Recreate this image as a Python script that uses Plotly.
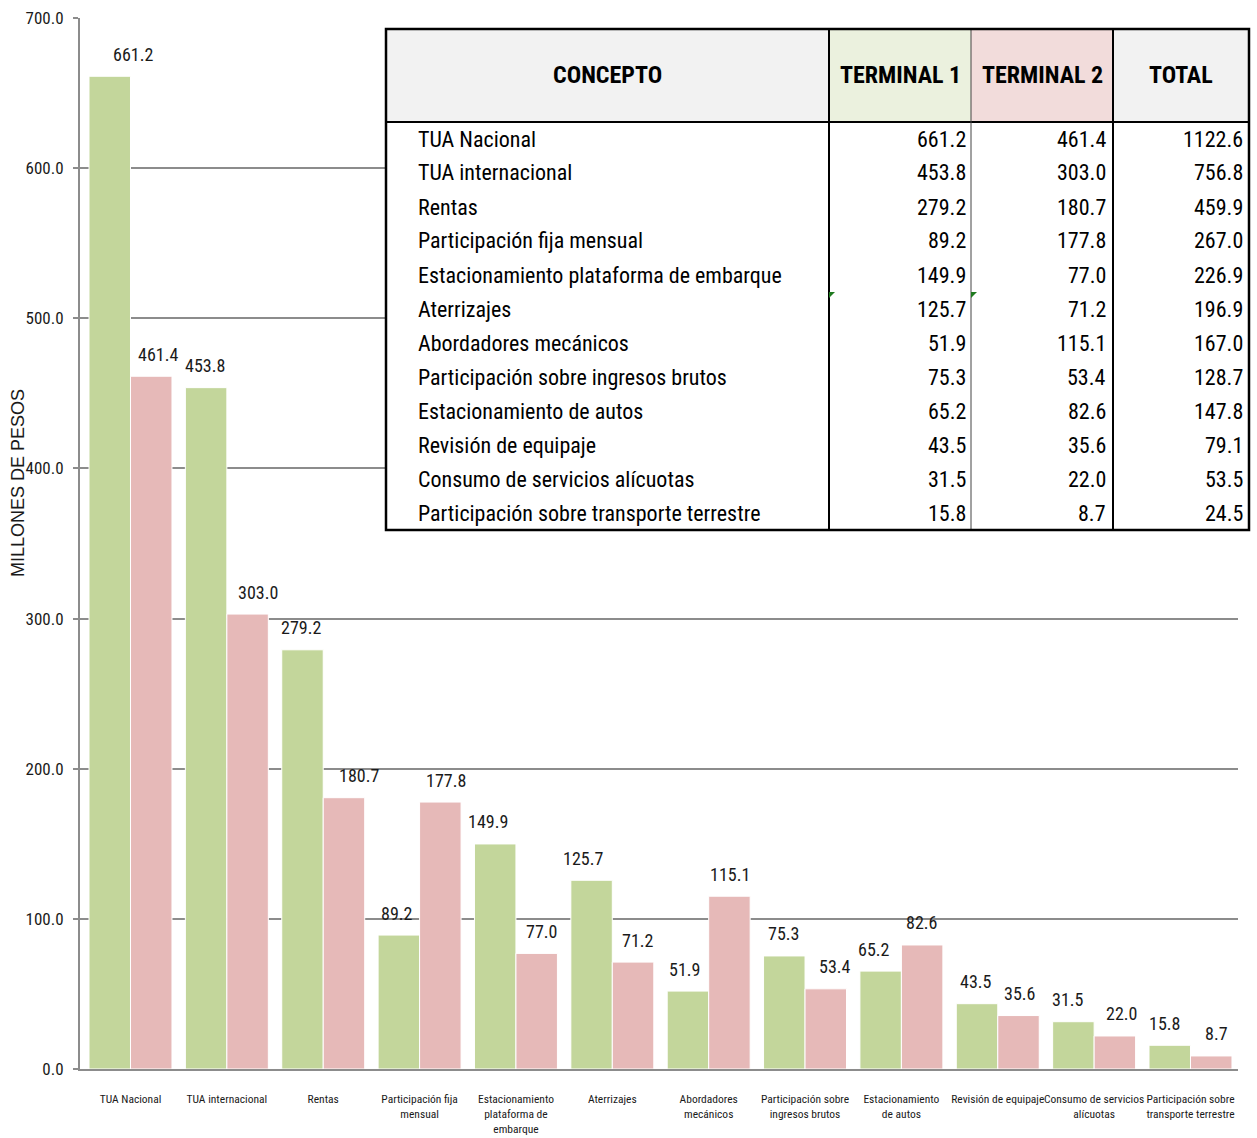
import plotly.graph_objects as go

# ---------------- data ----------------
categories = ["TUA Nacional", "TUA internacional", "Rentas", "Participación fija mensual",
              "Estacionamiento plataforma de embarque", "Aterrizajes", "Abordadores mecánicos",
              "Participación sobre ingresos brutos", "Estacionamiento de autos",
              "Revisión de equipaje", "Consumo de servicios alícuotas",
              "Participación sobre transporte terrestre"]
tick_labels = ["TUA Nacional", "TUA internacional", "Rentas", "Participación fija<br>mensual",
               "Estacionamiento<br>plataforma de<br>embarque", "Aterrizajes", "Abordadores<br>mecánicos",
               "Participación sobre<br>ingresos brutos", "Estacionamiento<br>de autos",
               "Revisión de equipaje", "Consumo de servicios<br>alícuotas",
               "Participación sobre<br>transporte terrestre"]
terminal1 = [661.2, 453.8, 279.2, 89.2, 149.9, 125.7, 51.9, 75.3, 65.2, 43.5, 31.5, 15.8]
terminal2 = [461.4, 303.0, 180.7, 177.8, 77.0, 71.2, 115.1, 53.4, 82.6, 35.6, 22.0, 8.7]
total = [1122.6, 756.8, 459.9, 267.0, 226.9, 196.9, 167.0, 128.7, 147.8, 79.1, 53.5, 24.5]
y_ticks = [0, 100, 200, 300, 400, 500, 600, 700]

# label horizontal nudges (px), as placed in the original
dx1 = [24, -1, -1, -2, -7, -8, -3, -1, -6, -1, -5, -5]
dx2 = [7, 10, 15, 5, 5, 5, 0, 9, -1, 1, 6, 5]

GREEN = "#C3D69B"
PINK = "#E6B9B8"
NARROW = "Liberation Sans Narrow, Arial Narrow, Roboto Condensed, DejaVu Sans Condensed, sans-serif"

W, H = 1257, 1138
L, R, T, B = 80, 19, 18, 69
PW, PH = W - L - R, H - T - B


def xp(x):
    return (x - L) / PW


def yp(y):
    return (H - B - y) / PH


fig = go.Figure()
fig.add_bar(x=categories, y=terminal1, name="TERMINAL 1", marker=dict(color=GREEN, line=dict(color="white", width=1)))
fig.add_bar(x=categories, y=terminal2, name="TERMINAL 2", marker=dict(color=PINK, line=dict(color="white", width=1)))

annotations = []
for i, c in enumerate(categories):
    for vals, off, dx in ((terminal1, -21, dx1), (terminal2, 21, dx2)):
        annotations.append(dict(x=c, y=vals[i], xref="x", yref="y", text=f"{vals[i]:.1f}",
                                showarrow=False, xshift=off + dx[i], yshift=22, yanchor="middle",
                                font=dict(family=NARROW, size=18, color="#1a1a1a")))

# y-axis title
annotations.append(dict(x=xp(18), y=yp(483), xref="paper", yref="paper", text="MILLONES DE PESOS",
                        textangle=-90, showarrow=False, xanchor="center", yanchor="middle",
                        font=dict(family="Liberation Sans, Arial, sans-serif", size=18, color="#1a1a1a")))

# ---------------- table ----------------
TL, TR, TT, THB, TB = 386, 1249, 29, 122, 530
cols = [TL, 829, 971, 1113, TR]
row_h = (TB - THB) / len(categories)
shapes = []


def rect(x0, y0, x1, y1, fill, lw=0, lc="black"):
    shapes.append(dict(type="rect", xref="paper", yref="paper", x0=xp(x0), x1=xp(x1), y0=yp(y1), y1=yp(y0),
                       fillcolor=fill, line=dict(width=lw, color=lc), layer="above"))


def line(x0, y0, x1, y1, w=2, c="black"):
    shapes.append(dict(type="line", xref="paper", yref="paper", x0=xp(x0), x1=xp(x1), y0=yp(y0), y1=yp(y1),
                       line=dict(width=w, color=c), layer="above"))


rect(TL, THB, TR, TB, "white")
header_fills = ["#F2F2F2", "#EBF1DE", "#F2DCDB", "#F2F2F2"]
for j in range(4):
    rect(cols[j], TT, cols[j + 1], THB, header_fills[j])
line(TL, THB, TR, THB, 2)
line(829, TT, 829, TB, 2)
line(971, TT, 971, TB, 1, "#444")
line(1113, TT, 1113, TB, 2)
rect(TL, TT, TR, TB, "rgba(0,0,0,0)", 2.5)

# comment markers
for cx in (829, 971):
    shapes.append(dict(type="path", xref="paper", yref="paper",
                       path=f"M {xp(cx)} {yp(292)} L {xp(cx + 6)} {yp(292)} L {xp(cx)} {yp(298)} Z",
                       fillcolor="#1F7A1F", line=dict(width=0), layer="above"))

headers = ["CONCEPTO", "TERMINAL 1", "TERMINAL 2", "TOTAL"]
for j, h in enumerate(headers):
    annotations.append(dict(x=xp((cols[j] + cols[j + 1]) / 2), y=yp((TT + THB) / 2), xref="paper", yref="paper",
                            text=f"<b>{h}</b>", showarrow=False, xanchor="center", yanchor="middle",
                            font=dict(family=NARROW, size=24, color="black")))

num_right = [968, 1108, 1245]
for i, c in enumerate(categories):
    yc = yp(THB + row_h * (i + 0.5))
    annotations.append(dict(x=xp(416), y=yc, xref="paper", yref="paper", text=c, showarrow=False,
                            xanchor="left", yanchor="middle", font=dict(family=NARROW, size=22, color="black")))
    for k, vals in enumerate((terminal1, terminal2, total)):
        annotations.append(dict(x=xp(num_right[k]), y=yc, xref="paper", yref="paper", text=f"{vals[i]:.1f}",
                                showarrow=False, xanchor="right", yanchor="middle",
                                font=dict(family=NARROW, size=22, color="black")))

fig.update_layout(
    width=W, height=H, autosize=False,
    margin=dict(l=L, r=R, t=T, b=B, pad=0, autoexpand=False),
    paper_bgcolor="white", plot_bgcolor="white",
    barmode="group", bargap=0.139, bargroupgap=0,
    showlegend=False,
    shapes=shapes, annotations=annotations,
    xaxis=dict(tickmode="array", tickvals=categories, ticktext=tick_labels, tickangle=0, automargin=False,
               range=[-0.524, 11.493],
               tickfont=dict(family=NARROW, size=11.5, color="#1a1a1a"), showline=True, linecolor="#8c8c8c",
               linewidth=2, ticks="", showgrid=False, ticklabelstandoff=18),
    yaxis=dict(range=[0, 700], tickvals=y_ticks, tickformat=".1f", showline=True, linecolor="#8c8c8c",
               linewidth=2, ticks="outside", ticklen=5, tickcolor="#8c8c8c", tickwidth=1.5, automargin=False,
               showgrid=True, gridcolor="#8c8c8c", gridwidth=1.5, zeroline=False,
               tickfont=dict(family=NARROW, size=17, color="#1a1a1a"), ticklabelstandoff=6),
)

fig.write_html("out.html")
